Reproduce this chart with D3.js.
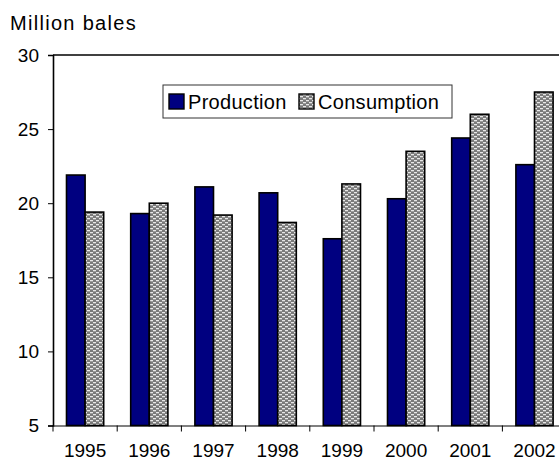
<!DOCTYPE html>
<html><head><meta charset="utf-8">
<script src="https://cdn.jsdelivr.net/npm/d3@7"></script>
<style>body{margin:0;background:#fff;} text{font-family:"Liberation Sans",Arial,sans-serif;}</style>
</head><body>
<svg id="c" width="559" height="464"></svg>
<script>
const years = ["1995","1996","1997","1998","1999","2000","2001","2002"];
const production = [21.9, 19.3, 21.1, 20.7, 17.6, 20.3, 24.4, 22.6];
const consumption = [19.4, 20.0, 19.2, 18.7, 21.3, 23.5, 26.0, 27.5];
const yTicks = [5, 10, 15, 20, 25, 30];
const seriesNames = ["Production", "Consumption"];

(function(){
const svg = d3.select("#c");
const mL = 53, mR = 566.6, mT = 55, mB = 425.5;
const fs = 19;

const defs = svg.append("defs");
const pat = defs.append("pattern").attr("id","dots").attr("patternUnits","userSpaceOnUse")
  .attr("width",6).attr("height",4);
pat.append("rect").attr("width",6).attr("height",4).attr("fill","#7a7a7a");
pat.append("rect").attr("x",0).attr("y",0).attr("width",3).attr("height",1.3).attr("fill","#e8e8e8");
pat.append("rect").attr("x",3).attr("y",2).attr("width",3).attr("height",1.3).attr("fill","#e8e8e8");

const x = d3.scaleBand().domain(years).range([mL, mR]).paddingInner(0).paddingOuter(0);
const y = d3.scaleLinear().domain([5, 30]).range([mB, mT]);
const barW = 18.6;

const fills = ["#000080", "url(#dots)"];
const data = [production, consumption];

data.forEach((vals, si) => {
  svg.append("g").selectAll("rect").data(vals).join("rect")
    .attr("x", (d,i) => x(years[i]) + x.bandwidth()/2 - barW + si*barW)
    .attr("y", d => y(d))
    .attr("width", barW)
    .attr("height", d => y(5) - y(d))
    .attr("fill", fills[si])
    .attr("stroke", "#000").attr("stroke-width", 1.6);
});

// y axis
const ya = svg.append("g").attr("transform", `translate(${mL},0)`)
  .call(d3.axisLeft(y).tickValues(yTicks).tickSize(5).tickPadding(9).tickFormat(d3.format("d")));
ya.select(".domain").attr("stroke","#000").attr("stroke-width",1.6);
ya.selectAll(".tick line").attr("stroke","#000").attr("stroke-width",1);
ya.selectAll("text").attr("font-size", fs).attr("font-family","Liberation Sans, Arial, sans-serif").attr("fill","#000");

// x axis
const xa = svg.append("g").attr("transform", `translate(0,${mB})`)
  .call(d3.axisBottom(x).tickSize(0).tickPadding(18));
xa.select(".domain").attr("stroke","#000").attr("stroke-width",1.2);
xa.selectAll("text").attr("font-size", fs).attr("font-family","Liberation Sans, Arial, sans-serif").attr("fill","#000");
svg.append("g").selectAll("line").data(years).join("line")
  .attr("x1", d => x(d)).attr("x2", d => x(d))
  .attr("y1", mB).attr("y2", mB + 6)
  .attr("stroke", "#000").attr("stroke-width", 1);

// top border
svg.append("line").attr("x1", mL).attr("x2", 559).attr("y1", mT).attr("y2", mT)
  .attr("stroke","#000").attr("stroke-width",1.6);

// unit title
svg.append("text").attr("x", 10).attr("y", 30).attr("font-size", 20).attr("letter-spacing", 1.3).text("Million bales");

// legend
const lg = svg.append("g");
lg.append("rect").attr("x",163).attr("y",85).attr("width",289).attr("height",33)
  .attr("fill","#fff").attr("stroke","#333").attr("stroke-width",1);
const lx = [169, 299];
seriesNames.forEach((n, i) => {
  lg.append("rect").attr("x", lx[i]).attr("y", 94).attr("width", 15).attr("height", 15)
    .attr("fill", fills[i]).attr("stroke","#000").attr("stroke-width",1.4);
  lg.append("text").attr("x", lx[i] + 19).attr("y", 109).attr("font-size", 20).attr("letter-spacing", 0.3).text(n);
});
})();
</script>
</body></html>
